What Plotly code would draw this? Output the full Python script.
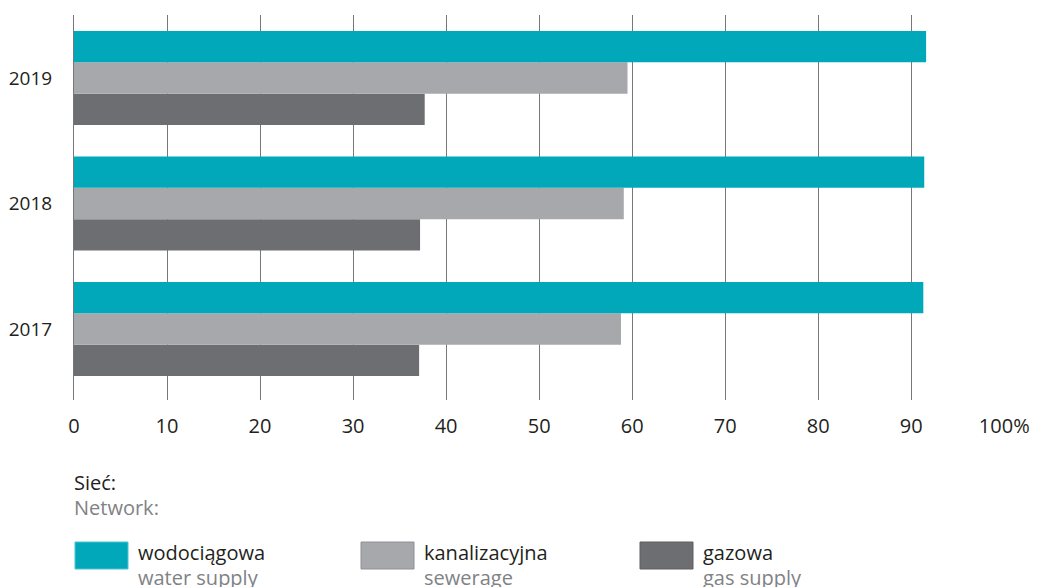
import plotly.graph_objects as go

years = ["2017", "2018", "2019"]
water = [91.3, 91.4, 91.6]
sewerage = [58.8, 59.1, 59.5]
gas = [37.1, 37.2, 37.7]

series_pl = ["wodociągowa", "kanalizacyjna", "gazowa"]
series_en = ["water supply", "sewerage", "gas supply"]
colors = ["#00a8b9", "#a7a8ab", "#6d6e71"]
borders = ["#4fc3cf", "#8f9093", "#5d5e61"]

x_ticks = [0, 10, 20, 30, 40, 50, 60, 70, 80, 90, 100]
x_ticktext = ["0", "10", "20", "30", "40", "50", "60", "70", "80", "90", "100%"]

FONT = "Open Sans"
W, H = 1037, 587
OFF = 8  # default page body margin
# target plot area in page pixels: x 74..1005, y 15..400
L = 74 - OFF
T = 15 - OFF
R = W - (1005 - OFF)
B = H - (400 - OFF)

fig = go.Figure()
# gas first -> bottom of each group
for vals, i in [(gas, 2), (sewerage, 1), (water, 0)]:
    fig.add_trace(go.Bar(
        y=years, x=vals, orientation="h", name=series_pl[i],
        marker=dict(color=colors[i], line=dict(width=0)),
        showlegend=False,
    ))

fig.update_layout(
    width=W, height=H,
    margin=dict(l=L, r=R, t=T, b=B, autoexpand=False),
    paper_bgcolor="white", plot_bgcolor="white",
    barmode="group", bargap=0.25, bargroupgap=0,
    font=dict(family=FONT, size=20, color="#231f20"),
    xaxis=dict(
        range=[0, 100.08], tickvals=x_ticks, ticktext=x_ticktext,
        showgrid=True, gridcolor="#77787b", gridwidth=1,
        zeroline=False, showline=False, ticks="", automargin=False,
        ticklabelstandoff=12, tickfont=dict(size=20, color="#231f20"),
        fixedrange=True,
    ),
    yaxis=dict(
        type="category", range=[-0.566, 2.502],
        showgrid=False, zeroline=False, automargin=False,
        showline=True, linecolor="#77787b", linewidth=1,
        ticks="", ticklabelstandoff=17,
        tickfont=dict(size=19, color="#231f20"),
        fixedrange=True,
    ),
)

pw = W - L - R
ph = H - T - B

def px(x):  # page pixel -> paper
    return (x - OFF - L) / pw

def py(y):
    return (H - B - (y - OFF)) / ph

def ann(x, y, text, color, size=20):
    return dict(xref="paper", yref="paper", x=px(x), y=py(y), text=text, showarrow=False,
                xanchor="left", yanchor="middle", font=dict(size=size, color=color))

annotations = [
    ann(72, 482, "Sieć:", "#231f20"),
    ann(72, 507, "Network:", "#808285"),
]
shapes = []
box_x = [75, 361, 640]
for i in range(3):
    x0 = box_x[i]
    shapes.append(dict(type="rect", xref="paper", yref="paper",
                       x0=px(x0), x1=px(x0 + 53), y0=py(569), y1=py(542),
                       fillcolor=colors[i], line=dict(color=borders[i], width=1)))
    annotations.append(ann(x0 + 61, 552, series_pl[i], "#231f20"))
    annotations.append(ann(x0 + 61, 577, series_en[i], "#808285"))

fig.update_layout(annotations=annotations, shapes=shapes)
fig.write_html("out.html")
